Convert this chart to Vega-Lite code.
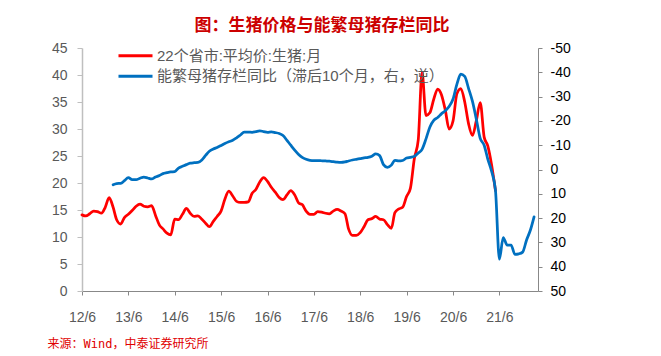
{
  "$schema": "https://vega.github.io/schema/vega-lite/v6.json",
  "width": 456,
  "height": 243,
  "autosize": {"type": "none"},
  "padding": {"left": 82, "top": 48, "right": 123, "bottom": 65},
  "background": "white",
  "config": {"view": {"stroke": null}, "font": "Liberation Sans, Noto Sans CJK SC"},
  "title": {
    "text": "图：生猪价格与能繁母猪存栏同比",
    "color": "#CC0000",
    "font": "Noto Sans CJK SC",
    "fontSize": 17,
    "fontWeight": "bold",
    "anchor": "middle",
    "dx": 12,
    "dy": -2.5,
    "offset": 3.5
  },
  "datasets": {
    "price": [
      {"date": "2012/06/01", "series": "22个省市:平均价:生猪:月", "v": 14.1},
      {"date": "2012/07/01", "series": "22个省市:平均价:生猪:月", "v": 13.9},
      {"date": "2012/08/01", "series": "22个省市:平均价:生猪:月", "v": 14.3},
      {"date": "2012/09/01", "series": "22个省市:平均价:生猪:月", "v": 14.8},
      {"date": "2012/10/01", "series": "22个省市:平均价:生猪:月", "v": 14.7},
      {"date": "2012/11/01", "series": "22个省市:平均价:生猪:月", "v": 14.4},
      {"date": "2012/12/01", "series": "22个省市:平均价:生猪:月", "v": 15.5},
      {"date": "2013/01/01", "series": "22个省市:平均价:生猪:月", "v": 17.3},
      {"date": "2013/02/01", "series": "22个省市:平均价:生猪:月", "v": 15.5},
      {"date": "2013/03/01", "series": "22个省市:平均价:生猪:月", "v": 13.2},
      {"date": "2013/04/01", "series": "22个省市:平均价:生猪:月", "v": 12.4},
      {"date": "2013/05/01", "series": "22个省市:平均价:生猪:月", "v": 13.6},
      {"date": "2013/06/01", "series": "22个省市:平均价:生猪:月", "v": 14.2},
      {"date": "2013/07/01", "series": "22个省市:平均价:生猪:月", "v": 14.9},
      {"date": "2013/08/01", "series": "22个省市:平均价:生猪:月", "v": 15.7},
      {"date": "2013/09/01", "series": "22个省市:平均价:生猪:月", "v": 16.1},
      {"date": "2013/10/01", "series": "22个省市:平均价:生猪:月", "v": 15.7},
      {"date": "2013/11/01", "series": "22个省市:平均价:生猪:月", "v": 15.6},
      {"date": "2013/12/01", "series": "22个省市:平均价:生猪:月", "v": 15.8},
      {"date": "2014/01/01", "series": "22个省市:平均价:生猪:月", "v": 14.0},
      {"date": "2014/02/01", "series": "22个省市:平均价:生猪:月", "v": 12.2},
      {"date": "2014/03/01", "series": "22个省市:平均价:生猪:月", "v": 11.5},
      {"date": "2014/04/01", "series": "22个省市:平均价:生猪:月", "v": 10.7},
      {"date": "2014/05/01", "series": "22个省市:平均价:生猪:月", "v": 10.4},
      {"date": "2014/06/01", "series": "22个省市:平均价:生猪:月", "v": 13.3},
      {"date": "2014/07/01", "series": "22个省市:平均价:生猪:月", "v": 13.2},
      {"date": "2014/08/01", "series": "22个省市:平均价:生猪:月", "v": 14.2},
      {"date": "2014/09/01", "series": "22个省市:平均价:生猪:月", "v": 15.3},
      {"date": "2014/10/01", "series": "22个省市:平均价:生猪:月", "v": 14.4},
      {"date": "2014/11/01", "series": "22个省市:平均价:生猪:月", "v": 13.8},
      {"date": "2014/12/01", "series": "22个省市:平均价:生猪:月", "v": 13.9},
      {"date": "2015/01/01", "series": "22个省市:平均价:生猪:月", "v": 13.3},
      {"date": "2015/02/01", "series": "22个省市:平均价:生猪:月", "v": 12.5},
      {"date": "2015/03/01", "series": "22个省市:平均价:生猪:月", "v": 11.9},
      {"date": "2015/04/01", "series": "22个省市:平均价:生猪:月", "v": 12.9},
      {"date": "2015/05/01", "series": "22个省市:平均价:生猪:月", "v": 13.8},
      {"date": "2015/06/01", "series": "22个省市:平均价:生猪:月", "v": 14.8},
      {"date": "2015/07/01", "series": "22个省市:平均价:生猪:月", "v": 17.0},
      {"date": "2015/08/01", "series": "22个省市:平均价:生猪:月", "v": 18.5},
      {"date": "2015/09/01", "series": "22个省市:平均价:生猪:月", "v": 17.6},
      {"date": "2015/10/01", "series": "22个省市:平均价:生猪:月", "v": 16.6},
      {"date": "2015/11/01", "series": "22个省市:平均价:生猪:月", "v": 16.4},
      {"date": "2015/12/01", "series": "22个省市:平均价:生猪:月", "v": 16.4},
      {"date": "2016/01/01", "series": "22个省市:平均价:生猪:月", "v": 16.5},
      {"date": "2016/02/01", "series": "22个省市:平均价:生猪:月", "v": 18.1},
      {"date": "2016/03/01", "series": "22个省市:平均价:生猪:月", "v": 18.8},
      {"date": "2016/04/01", "series": "22个省市:平均价:生猪:月", "v": 20.2},
      {"date": "2016/05/01", "series": "22个省市:平均价:生猪:月", "v": 21.0},
      {"date": "2016/06/01", "series": "22个省市:平均价:生猪:月", "v": 20.3},
      {"date": "2016/07/01", "series": "22个省市:平均价:生猪:月", "v": 19.2},
      {"date": "2016/08/01", "series": "22个省市:平均价:生猪:月", "v": 18.3},
      {"date": "2016/09/01", "series": "22个省市:平均价:生猪:月", "v": 17.3},
      {"date": "2016/10/01", "series": "22个省市:平均价:生猪:月", "v": 16.9},
      {"date": "2016/11/01", "series": "22个省市:平均价:生猪:月", "v": 17.8},
      {"date": "2016/12/01", "series": "22个省市:平均价:生猪:月", "v": 18.6},
      {"date": "2017/01/01", "series": "22个省市:平均价:生猪:月", "v": 17.8},
      {"date": "2017/02/01", "series": "22个省市:平均价:生猪:月", "v": 16.3},
      {"date": "2017/03/01", "series": "22个省市:平均价:生猪:月", "v": 16.0},
      {"date": "2017/04/01", "series": "22个省市:平均价:生猪:月", "v": 14.8},
      {"date": "2017/05/01", "series": "22个省市:平均价:生猪:月", "v": 14.2},
      {"date": "2017/06/01", "series": "22个省市:平均价:生猪:月", "v": 14.2},
      {"date": "2017/07/01", "series": "22个省市:平均价:生猪:月", "v": 14.7},
      {"date": "2017/08/01", "series": "22个省市:平均价:生猪:月", "v": 14.6},
      {"date": "2017/09/01", "series": "22个省市:平均价:生猪:月", "v": 14.4},
      {"date": "2017/10/01", "series": "22个省市:平均价:生猪:月", "v": 14.3},
      {"date": "2017/11/01", "series": "22个省市:平均价:生猪:月", "v": 14.8},
      {"date": "2017/12/01", "series": "22个省市:平均价:生猪:月", "v": 15.1},
      {"date": "2018/01/01", "series": "22个省市:平均价:生猪:月", "v": 14.8},
      {"date": "2018/02/01", "series": "22个省市:平均价:生猪:月", "v": 14.3},
      {"date": "2018/03/01", "series": "22个省市:平均价:生猪:月", "v": 11.5},
      {"date": "2018/04/01", "series": "22个省市:平均价:生猪:月", "v": 10.3},
      {"date": "2018/05/01", "series": "22个省市:平均价:生猪:月", "v": 10.3},
      {"date": "2018/06/01", "series": "22个省市:平均价:生猪:月", "v": 10.8},
      {"date": "2018/07/01", "series": "22个省市:平均价:生猪:月", "v": 11.9},
      {"date": "2018/08/01", "series": "22个省市:平均价:生猪:月", "v": 13.2},
      {"date": "2018/09/01", "series": "22个省市:平均价:生猪:月", "v": 13.4},
      {"date": "2018/10/01", "series": "22个省市:平均价:生猪:月", "v": 13.8},
      {"date": "2018/11/01", "series": "22个省市:平均价:生猪:月", "v": 13.3},
      {"date": "2018/12/01", "series": "22个省市:平均价:生猪:月", "v": 13.2},
      {"date": "2019/01/01", "series": "22个省市:平均价:生猪:月", "v": 12.3},
      {"date": "2019/02/01", "series": "22个省市:平均价:生猪:月", "v": 11.6},
      {"date": "2019/03/01", "series": "22个省市:平均价:生猪:月", "v": 14.5},
      {"date": "2019/04/01", "series": "22个省市:平均价:生猪:月", "v": 15.2},
      {"date": "2019/05/01", "series": "22个省市:平均价:生猪:月", "v": 15.5},
      {"date": "2019/06/01", "series": "22个省市:平均价:生猪:月", "v": 17.5},
      {"date": "2019/07/01", "series": "22个省市:平均价:生猪:月", "v": 19.0},
      {"date": "2019/08/01", "series": "22个省市:平均价:生猪:月", "v": 24.5},
      {"date": "2019/09/01", "series": "22个省市:平均价:生猪:月", "v": 28.0},
      {"date": "2019/10/01", "series": "22个省市:平均价:生猪:月", "v": 40.5},
      {"date": "2019/11/01", "series": "22个省市:平均价:生猪:月", "v": 32.5},
      {"date": "2019/12/01", "series": "22个省市:平均价:生猪:月", "v": 33.0},
      {"date": "2020/01/01", "series": "22个省市:平均价:生猪:月", "v": 35.5},
      {"date": "2020/02/01", "series": "22个省市:平均价:生猪:月", "v": 37.4},
      {"date": "2020/03/01", "series": "22个省市:平均价:生猪:月", "v": 36.4},
      {"date": "2020/04/01", "series": "22个省市:平均价:生猪:月", "v": 33.5},
      {"date": "2020/05/01", "series": "22个省市:平均价:生猪:月", "v": 30.0},
      {"date": "2020/06/01", "series": "22个省市:平均价:生猪:月", "v": 31.5},
      {"date": "2020/07/01", "series": "22个省市:平均价:生猪:月", "v": 36.5},
      {"date": "2020/08/01", "series": "22个省市:平均价:生猪:月", "v": 37.5},
      {"date": "2020/09/01", "series": "22个省市:平均价:生猪:月", "v": 35.0},
      {"date": "2020/10/01", "series": "22个省市:平均价:生猪:月", "v": 31.0},
      {"date": "2020/11/01", "series": "22个省市:平均价:生猪:月", "v": 28.8},
      {"date": "2020/12/01", "series": "22个省市:平均价:生猪:月", "v": 31.5},
      {"date": "2021/01/01", "series": "22个省市:平均价:生猪:月", "v": 34.9},
      {"date": "2021/02/01", "series": "22个省市:平均价:生猪:月", "v": 28.5},
      {"date": "2021/03/01", "series": "22个省市:平均价:生猪:月", "v": 26.9},
      {"date": "2021/04/01", "series": "22个省市:平均价:生猪:月", "v": 23.3},
      {"date": "2021/05/01", "series": "22个省市:平均价:生猪:月", "v": 18.6}
    ],
    "sow": [
      {"date": "2013/02/01", "series": "能繁母猪存栏同比（滞后10个月，右，逆）", "v": 6.3},
      {"date": "2013/03/01", "series": "能繁母猪存栏同比（滞后10个月，右，逆）", "v": 5.8},
      {"date": "2013/04/01", "series": "能繁母猪存栏同比（滞后10个月，右，逆）", "v": 5.7},
      {"date": "2013/05/01", "series": "能繁母猪存栏同比（滞后10个月，右，逆）", "v": 4.6},
      {"date": "2013/06/01", "series": "能繁母猪存栏同比（滞后10个月，右，逆）", "v": 3.3},
      {"date": "2013/07/01", "series": "能繁母猪存栏同比（滞后10个月，右，逆）", "v": 4.2},
      {"date": "2013/08/01", "series": "能繁母猪存栏同比（滞后10个月，右，逆）", "v": 4.2},
      {"date": "2013/09/01", "series": "能繁母猪存栏同比（滞后10个月，右，逆）", "v": 3.6},
      {"date": "2013/10/01", "series": "能繁母猪存栏同比（滞后10个月，右，逆）", "v": 3.1},
      {"date": "2013/11/01", "series": "能繁母猪存栏同比（滞后10个月，右，逆）", "v": 3.5},
      {"date": "2013/12/01", "series": "能繁母猪存栏同比（滞后10个月，右，逆）", "v": 3.9},
      {"date": "2014/01/01", "series": "能繁母猪存栏同比（滞后10个月，右，逆）", "v": 3.1},
      {"date": "2014/02/01", "series": "能繁母猪存栏同比（滞后10个月，右，逆）", "v": 2.5},
      {"date": "2014/03/01", "series": "能繁母猪存栏同比（滞后10个月，右，逆）", "v": 1.7},
      {"date": "2014/04/01", "series": "能繁母猪存栏同比（滞后10个月，右，逆）", "v": 1.3},
      {"date": "2014/05/01", "series": "能繁母猪存栏同比（滞后10个月，右，逆）", "v": 1.0},
      {"date": "2014/06/01", "series": "能繁母猪存栏同比（滞后10个月，右，逆）", "v": 0.9},
      {"date": "2014/07/01", "series": "能繁母猪存栏同比（滞后10个月，右，逆）", "v": -0.6},
      {"date": "2014/08/01", "series": "能繁母猪存栏同比（滞后10个月，右，逆）", "v": -1.3},
      {"date": "2014/09/01", "series": "能繁母猪存栏同比（滞后10个月，右，逆）", "v": -2.0},
      {"date": "2014/10/01", "series": "能繁母猪存栏同比（滞后10个月，右，逆）", "v": -2.6},
      {"date": "2014/11/01", "series": "能繁母猪存栏同比（滞后10个月，右，逆）", "v": -2.8},
      {"date": "2014/12/01", "series": "能繁母猪存栏同比（滞后10个月，右，逆）", "v": -2.9},
      {"date": "2015/01/01", "series": "能繁母猪存栏同比（滞后10个月，右，逆）", "v": -3.9},
      {"date": "2015/02/01", "series": "能繁母猪存栏同比（滞后10个月，右，逆）", "v": -5.9},
      {"date": "2015/03/01", "series": "能繁母猪存栏同比（滞后10个月，右，逆）", "v": -7.5},
      {"date": "2015/04/01", "series": "能繁母猪存栏同比（滞后10个月，右，逆）", "v": -8.4},
      {"date": "2015/05/01", "series": "能繁母猪存栏同比（滞后10个月，右，逆）", "v": -9.1},
      {"date": "2015/06/01", "series": "能繁母猪存栏同比（滞后10个月，右，逆）", "v": -9.9},
      {"date": "2015/07/01", "series": "能繁母猪存栏同比（滞后10个月，右，逆）", "v": -10.7},
      {"date": "2015/08/01", "series": "能繁母猪存栏同比（滞后10个月，右，逆）", "v": -11.4},
      {"date": "2015/09/01", "series": "能繁母猪存栏同比（滞后10个月，右，逆）", "v": -12.0},
      {"date": "2015/10/01", "series": "能繁母猪存栏同比（滞后10个月，右，逆）", "v": -13.0},
      {"date": "2015/11/01", "series": "能繁母猪存栏同比（滞后10个月，右，逆）", "v": -14.2},
      {"date": "2015/12/01", "series": "能繁母猪存栏同比（滞后10个月，右，逆）", "v": -15.4},
      {"date": "2016/01/01", "series": "能繁母猪存栏同比（滞后10个月，右，逆）", "v": -15.4},
      {"date": "2016/02/01", "series": "能繁母猪存栏同比（滞后10个月，右，逆）", "v": -15.3},
      {"date": "2016/03/01", "series": "能繁母猪存栏同比（滞后10个月，右，逆）", "v": -15.6},
      {"date": "2016/04/01", "series": "能繁母猪存栏同比（滞后10个月，右，逆）", "v": -15.9},
      {"date": "2016/05/01", "series": "能繁母猪存栏同比（滞后10个月，右，逆）", "v": -15.6},
      {"date": "2016/06/01", "series": "能繁母猪存栏同比（滞后10个月，右，逆）", "v": -15.3},
      {"date": "2016/07/01", "series": "能繁母猪存栏同比（滞后10个月，右，逆）", "v": -15.5},
      {"date": "2016/08/01", "series": "能繁母猪存栏同比（滞后10个月，右，逆）", "v": -15.2},
      {"date": "2016/09/01", "series": "能繁母猪存栏同比（滞后10个月，右，逆）", "v": -14.8},
      {"date": "2016/10/01", "series": "能繁母猪存栏同比（滞后10个月，右，逆）", "v": -14.0},
      {"date": "2016/11/01", "series": "能繁母猪存栏同比（滞后10个月，右，逆）", "v": -12.0},
      {"date": "2016/12/01", "series": "能繁母猪存栏同比（滞后10个月，右，逆）", "v": -10.0},
      {"date": "2017/01/01", "series": "能繁母猪存栏同比（滞后10个月，右，逆）", "v": -8.0},
      {"date": "2017/02/01", "series": "能繁母猪存栏同比（滞后10个月，右，逆）", "v": -6.2},
      {"date": "2017/03/01", "series": "能繁母猪存栏同比（滞后10个月，右，逆）", "v": -5.0},
      {"date": "2017/04/01", "series": "能繁母猪存栏同比（滞后10个月，右，逆）", "v": -4.2},
      {"date": "2017/05/01", "series": "能繁母猪存栏同比（滞后10个月，右，逆）", "v": -3.8},
      {"date": "2017/06/01", "series": "能繁母猪存栏同比（滞后10个月，右，逆）", "v": -3.7},
      {"date": "2017/07/01", "series": "能繁母猪存栏同比（滞后10个月，右，逆）", "v": -3.7},
      {"date": "2017/08/01", "series": "能繁母猪存栏同比（滞后10个月，右，逆）", "v": -3.6},
      {"date": "2017/09/01", "series": "能繁母猪存栏同比（滞后10个月，右，逆）", "v": -3.5},
      {"date": "2017/10/01", "series": "能繁母猪存栏同比（滞后10个月，右，逆）", "v": -3.4},
      {"date": "2017/11/01", "series": "能繁母猪存栏同比（滞后10个月，右，逆）", "v": -3.2},
      {"date": "2017/12/01", "series": "能繁母猪存栏同比（滞后10个月，右，逆）", "v": -3.0},
      {"date": "2018/01/01", "series": "能繁母猪存栏同比（滞后10个月，右，逆）", "v": -2.9},
      {"date": "2018/02/01", "series": "能繁母猪存栏同比（滞后10个月，右，逆）", "v": -3.1},
      {"date": "2018/03/01", "series": "能繁母猪存栏同比（滞后10个月，右，逆）", "v": -3.5},
      {"date": "2018/04/01", "series": "能繁母猪存栏同比（滞后10个月，右，逆）", "v": -3.9},
      {"date": "2018/05/01", "series": "能繁母猪存栏同比（滞后10个月，右，逆）", "v": -4.2},
      {"date": "2018/06/01", "series": "能繁母猪存栏同比（滞后10个月，右，逆）", "v": -4.5},
      {"date": "2018/07/01", "series": "能繁母猪存栏同比（滞后10个月，右，逆）", "v": -4.8},
      {"date": "2018/08/01", "series": "能繁母猪存栏同比（滞后10个月，右，逆）", "v": -5.0},
      {"date": "2018/09/01", "series": "能繁母猪存栏同比（滞后10个月，右，逆）", "v": -5.5},
      {"date": "2018/10/01", "series": "能繁母猪存栏同比（滞后10个月，右，逆）", "v": -6.4},
      {"date": "2018/11/01", "series": "能繁母猪存栏同比（滞后10个月，右，逆）", "v": -5.7},
      {"date": "2018/12/01", "series": "能繁母猪存栏同比（滞后10个月，右，逆）", "v": -2.0},
      {"date": "2019/01/01", "series": "能繁母猪存栏同比（滞后10个月，右，逆）", "v": -0.9},
      {"date": "2019/02/01", "series": "能繁母猪存栏同比（滞后10个月，右，逆）", "v": -1.8},
      {"date": "2019/03/01", "series": "能繁母猪存栏同比（滞后10个月，右，逆）", "v": -3.8},
      {"date": "2019/04/01", "series": "能繁母猪存栏同比（滞后10个月，右，逆）", "v": -3.5},
      {"date": "2019/05/01", "series": "能繁母猪存栏同比（滞后10个月，右，逆）", "v": -3.7},
      {"date": "2019/06/01", "series": "能繁母猪存栏同比（滞后10个月，右，逆）", "v": -4.7},
      {"date": "2019/07/01", "series": "能繁母猪存栏同比（滞后10个月，右，逆）", "v": -5.0},
      {"date": "2019/08/01", "series": "能繁母猪存栏同比（滞后10个月，右，逆）", "v": -5.4},
      {"date": "2019/09/01", "series": "能繁母猪存栏同比（滞后10个月，右，逆）", "v": -6.8},
      {"date": "2019/10/01", "series": "能繁母猪存栏同比（滞后10个月，右，逆）", "v": -8.3},
      {"date": "2019/11/01", "series": "能繁母猪存栏同比（滞后10个月，右，逆）", "v": -12.6},
      {"date": "2019/12/01", "series": "能繁母猪存栏同比（滞后10个月，右，逆）", "v": -17.4},
      {"date": "2020/01/01", "series": "能繁母猪存栏同比（滞后10个月，右，逆）", "v": -20.2},
      {"date": "2020/02/01", "series": "能繁母猪存栏同比（滞后10个月，右，逆）", "v": -21.4},
      {"date": "2020/03/01", "series": "能繁母猪存栏同比（滞后10个月，右，逆）", "v": -22.9},
      {"date": "2020/04/01", "series": "能繁母猪存栏同比（滞后10个月，右，逆）", "v": -24.2},
      {"date": "2020/05/01", "series": "能繁母猪存栏同比（滞后10个月，右，逆）", "v": -25.9},
      {"date": "2020/06/01", "series": "能繁母猪存栏同比（滞后10个月，右，逆）", "v": -29.0},
      {"date": "2020/07/01", "series": "能繁母猪存栏同比（滞后10个月，右，逆）", "v": -35.0},
      {"date": "2020/08/01", "series": "能繁母猪存栏同比（滞后10个月，右，逆）", "v": -39.2},
      {"date": "2020/09/01", "series": "能繁母猪存栏同比（滞后10个月，右，逆）", "v": -38.3},
      {"date": "2020/10/01", "series": "能繁母猪存栏同比（滞后10个月，右，逆）", "v": -33.4},
      {"date": "2020/11/01", "series": "能繁母猪存栏同比（滞后10个月，右，逆）", "v": -28.0},
      {"date": "2020/12/01", "series": "能繁母猪存栏同比（滞后10个月，右，逆）", "v": -20.8},
      {"date": "2021/01/01", "series": "能繁母猪存栏同比（滞后10个月，右，逆）", "v": -12.8},
      {"date": "2021/02/01", "series": "能繁母猪存栏同比（滞后10个月，右，逆）", "v": -10.0},
      {"date": "2021/03/01", "series": "能繁母猪存栏同比（滞后10个月，右，逆）", "v": -4.4},
      {"date": "2021/04/01", "series": "能繁母猪存栏同比（滞后10个月，右，逆）", "v": 0.8},
      {"date": "2021/05/01", "series": "能繁母猪存栏同比（滞后10个月，右，逆）", "v": 8.5},
      {"date": "2021/06/01", "series": "能繁母猪存栏同比（滞后10个月，右，逆）", "v": 36.9},
      {"date": "2021/07/01", "series": "能繁母猪存栏同比（滞后10个月，右，逆）", "v": 28.0},
      {"date": "2021/08/01", "series": "能繁母猪存栏同比（滞后10个月，右，逆）", "v": 31.1},
      {"date": "2021/09/01", "series": "能繁母猪存栏同比（滞后10个月，右，逆）", "v": 31.1},
      {"date": "2021/10/01", "series": "能繁母猪存栏同比（滞后10个月，右，逆）", "v": 34.9},
      {"date": "2021/11/01", "series": "能繁母猪存栏同比（滞后10个月，右，逆）", "v": 34.7},
      {"date": "2021/12/01", "series": "能繁母猪存栏同比（滞后10个月，右，逆）", "v": 34.0},
      {"date": "2022/01/01", "series": "能繁母猪存栏同比（滞后10个月，右，逆）", "v": 29.0},
      {"date": "2022/02/01", "series": "能繁母猪存栏同比（滞后10个月，右，逆）", "v": 24.8},
      {"date": "2022/03/01", "series": "能繁母猪存栏同比（滞后10个月，右，逆）", "v": 19.5}
    ]
  },
  "layer": [
    {
      "data": {"name": "price"},
      "mark": {"type": "line", "strokeWidth": 2.75, "interpolate": "monotone", "strokeJoin": "round", "strokeCap": "round"},
      "encoding": {
        "x": {
          "field": "date", "type": "temporal",
          "scale": {"domain": [{"year": 2012, "month": 6, "date": 1}, {"year": 2022, "month": 4, "date": 1}], "nice": false},
          "axis": {
            "values": [
              {"year": 2012, "month": 6, "date": 1}, {"year": 2013, "month": 6, "date": 1},
              {"year": 2014, "month": 6, "date": 1}, {"year": 2015, "month": 6, "date": 1},
              {"year": 2016, "month": 6, "date": 1}, {"year": 2017, "month": 6, "date": 1},
              {"year": 2018, "month": 6, "date": 1}, {"year": 2019, "month": 6, "date": 1},
              {"year": 2020, "month": 6, "date": 1}, {"year": 2021, "month": 6, "date": 1}
            ],
            "format": "%y/%-m",
            "grid": false,
            "labelFont": "Liberation Sans",
            "labelFontSize": 14,
            "labelColor": "#595959",
            "labelPadding": 15,
            "labelDx": 2.5,
            "labelOverlap": false,
            "labelFlush": false,
            "domainColor": "#888888",
            "tickColor": "#888888",
            "tickSize": 4,
            "title": "来源：Wind，中泰证券研究所",
            "titleX": -35,
            "titleY": 52,
            "titleAlign": "left",
            "titleBaseline": "middle",
            "titleAngle": 0,
            "titleFont": "DejaVu Sans Mono, Noto Sans CJK SC",
            "titleFontSize": 12,
            "titleFontWeight": "normal",
            "titleColor": "#E00000"
          }
        },
        "y": {
          "field": "v", "type": "quantitative",
          "scale": {"domain": [0, 45], "nice": false},
          "axis": {
            "values": [0, 5, 10, 15, 20, 25, 30, 35, 40, 45],
            "title": null,
            "grid": false,
            "labelFont": "Liberation Sans",
            "labelFontSize": 14,
            "labelColor": "#595959",
            "labelPadding": 10,
            "domainColor": "#BFBFBF",
            "domainWidth": 1.5,
            "tickColor": "#BFBFBF",
            "tickSize": 5
          }
        },
        "color": {
          "field": "series", "type": "nominal",
          "scale": {"domain": ["22个省市:平均价:生猪:月", "能繁母猪存栏同比（滞后10个月，右，逆）"], "range": ["#FF0000", "#0070C0"]},
          "legend": {
            "orient": "none",
            "legendX": 45,
            "legendY": -0.8,
            "title": null,
            "padding": 0,
            "symbolType": "M-2.43,0H2.43",
            "symbolSize": 196,
            "symbolStrokeWidth": 3,
            "rowPadding": 3.6,
            "labelOffset": 13,
            "labelFont": "Liberation Sans, Noto Sans CJK SC",
            "labelFontSize": 15,
            "labelColor": "#595959",
            "labelLimit": 400
          }
        }
      }
    },
    {
      "data": {"name": "sow"},
      "mark": {"type": "line", "strokeWidth": 2.75, "interpolate": "monotone", "strokeJoin": "round", "strokeCap": "round"},
      "encoding": {
        "x": {"field": "date", "type": "temporal"},
        "y": {
          "field": "v", "type": "quantitative",
          "scale": {"domain": [-50, 50], "nice": false, "reverse": true},
          "axis": {
            "orient": "right",
            "values": [-50, -40, -30, -20, -10, 0, 10, 20, 30, 40, 50],
            "labelExpr": "toString(datum.value)",
            "title": null,
            "grid": false,
            "labelFont": "Liberation Sans",
            "labelFontSize": 14,
            "labelColor": "#000000",
            "labelPadding": 8,
            "domainColor": "#888888",
            "tickColor": "#888888",
            "tickSize": 4
          }
        },
        "color": {"field": "series", "type": "nominal"}
      }
    }
  ],
  "resolve": {"scale": {"y": "independent"}}
}
